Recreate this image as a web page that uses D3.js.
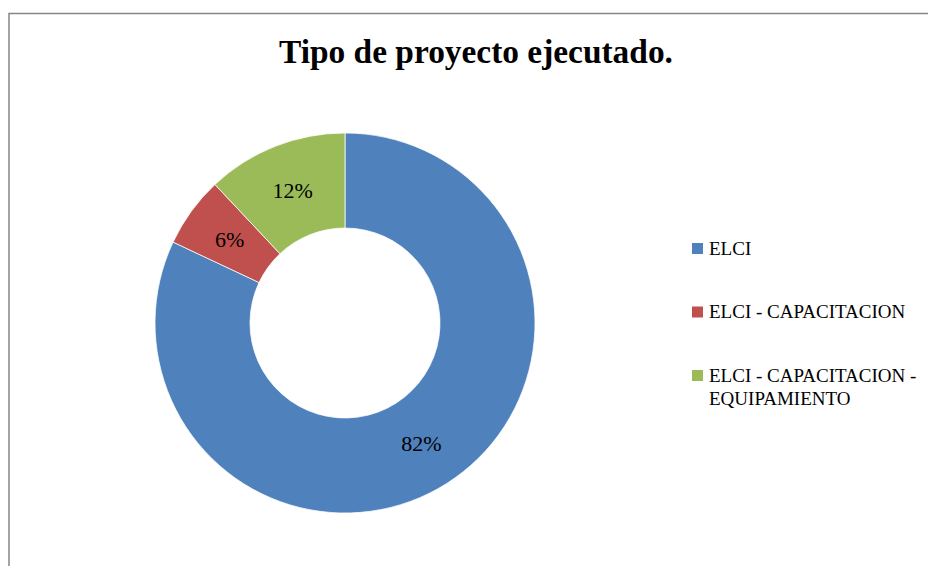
<!DOCTYPE html>
<html>
<head>
<meta charset="utf-8">
<script src="https://cdn.jsdelivr.net/npm/d3@7"></script>
<style>
  html, body { margin: 0; padding: 0; background: #fff; }
  svg { display: block; }
</style>
</head>
<body>
<svg id="chart" width="928" height="566"></svg>
<script>
// Project types and their shares (percent)
const categories = ["ELCI", "ELCI - CAPACITACION", "ELCI - CAPACITACION - EQUIPAMIENTO"];
const values = [82, 6, 12];
const colors = ["#4F81BD", "#C0504D", "#9BBB59"];
const legendLines = [["ELCI"], ["ELCI - CAPACITACION"], ["ELCI - CAPACITACION -", "EQUIPAMIENTO"]];
const title = "Tipo de proyecto ejecutado.";

const svg = d3.select("#chart");
const serif = "'Liberation Serif', serif";

// Chart frame (left and top edges visible)
svg.append("path")
  .attr("d", "M9,566 V13.5 H928")
  .attr("fill", "none")
  .attr("stroke", "#868686")
  .attr("stroke-width", 1.5);

// Title
svg.append("text")
  .attr("x", 476).attr("y", 63)
  .attr("text-anchor", "middle")
  .attr("font-family", serif)
  .attr("font-weight", "bold")
  .attr("font-size", 33.4)
  .attr("fill", "#000")
  .text(title);

// Donut
const cx = 345, cy = 323, outerR = 190, innerR = 95;
const pie = d3.pie().sort(null).value(d => d)(values);
const arc = d3.arc().innerRadius(innerR).outerRadius(outerR);
const color = d3.scaleOrdinal().domain(categories).range(colors);

const g = svg.append("g").attr("transform", `translate(${cx},${cy})`);
g.selectAll("path.slice")
  .data(pie)
  .join("path")
  .attr("class", "slice")
  .attr("d", arc)
  .attr("fill", (d, i) => color(categories[i]))
  .attr("stroke", "#fff")
  .attr("stroke-width", 0.75);

g.selectAll("text.pct")
  .data(pie)
  .join("text")
  .attr("class", "pct")
  .attr("transform", d => `translate(${arc.centroid(d)})`)
  .attr("text-anchor", "middle")
  .attr("dy", "0.35em")
  .attr("font-family", serif)
  .attr("font-size", 22)
  .attr("fill", "#000")
  .text(d => d.value + "%");

// Legend
const legendY = d3.scalePoint().domain(categories).range([248, 375]);
const lg = svg.append("g");
categories.forEach((c, i) => {
  const y = legendY(c);
  lg.append("rect")
    .attr("x", 692).attr("y", y - 5)
    .attr("width", 11).attr("height", 11)
    .attr("fill", color(c));
  const t = lg.append("text")
    .attr("x", 709).attr("y", y + 6.5)
    .attr("font-family", serif)
    .attr("font-size", 19)
    .attr("fill", "#000");
  legendLines[i].forEach((line, j) => {
    t.append("tspan").attr("x", 709).attr("dy", j === 0 ? 0 : 23).text(line);
  });
});
</script>
</body>
</html>
